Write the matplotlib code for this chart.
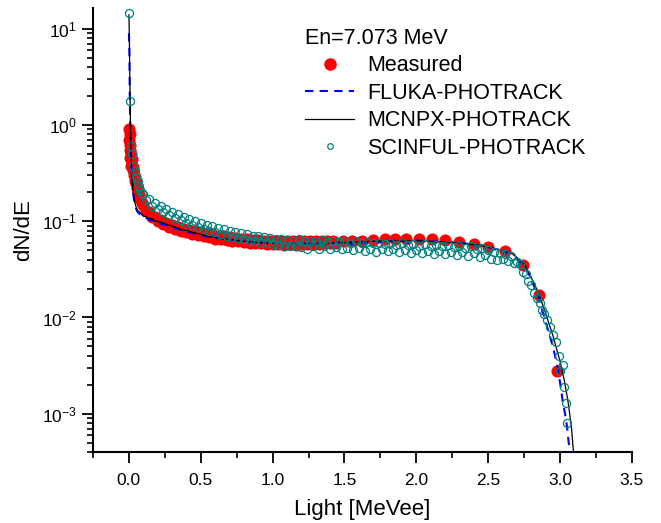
import matplotlib
matplotlib.use("Agg")
import matplotlib.pyplot as plt
from matplotlib.ticker import LogLocator, MultipleLocator, NullFormatter

plt.rcParams['font.family'] = ['Liberation Sans', 'DejaVu Sans']

# measured spectrum
meas_x = [0.0, 0.0, 0.005, 0.005, 0.01, 0.01, 0.015, 0.015, 0.02, 0.025, 0.03, 0.035, 0.04,
          0.045, 0.05, 0.055, 0.06, 0.065, 0.07, 0.08, 0.09,
          0.10, 0.12, 0.14, 0.16, 0.18, 0.20, 0.22, 0.24, 0.26, 0.28, 0.30, 0.32, 0.34, 0.36,
          0.38, 0.40, 0.42, 0.44, 0.46, 0.48, 0.50, 0.52, 0.54, 0.56, 0.58, 0.60, 0.62, 0.64,
          0.66, 0.68, 0.70, 0.72, 0.74, 0.76, 0.78, 0.80, 0.82, 0.84, 0.86, 0.88, 0.90, 0.92,
          0.94, 0.96, 0.98, 1.00, 1.02, 1.04, 1.06, 1.08, 1.10, 1.12, 1.14, 1.16, 1.18, 1.20,
          1.22, 1.24, 1.26, 1.28, 1.30, 1.32, 1.34, 1.36, 1.38, 1.40, 1.42, 1.44,
          1.49, 1.55, 1.62, 1.70, 1.78, 1.85, 1.93, 2.02, 2.11, 2.20, 2.30, 2.40, 2.50, 2.62,
          2.74, 2.85, 2.98]
meas_y = [0.90, 0.70, 0.80, 0.55, 0.62, 0.45, 0.50, 0.38, 0.44, 0.37, 0.34, 0.30, 0.29,
          0.26, 0.25, 0.22, 0.215, 0.195, 0.19, 0.17, 0.155,
          0.146, 0.128, 0.124, 0.111, 0.112, 0.101, 0.103, 0.094, 0.097, 0.088, 0.092, 0.084, 0.088, 0.080,
          0.084, 0.077, 0.081, 0.074, 0.079, 0.072, 0.077, 0.070, 0.075, 0.068, 0.073, 0.066, 0.071, 0.065,
          0.070, 0.064, 0.068, 0.063, 0.067, 0.062, 0.066, 0.061, 0.065, 0.060, 0.064, 0.059, 0.064, 0.059,
          0.063, 0.058, 0.063, 0.058, 0.062, 0.058, 0.062, 0.057, 0.062, 0.058, 0.062, 0.057, 0.062, 0.058,
          0.062, 0.058, 0.062, 0.058, 0.063, 0.058, 0.062, 0.059, 0.063, 0.059, 0.062, 0.060,
          0.062, 0.063, 0.063, 0.064, 0.065, 0.066, 0.066, 0.066, 0.065, 0.064, 0.061, 0.058, 0.054, 0.049,
          0.035, 0.017, 0.0028]

# FLUKA-PHOTRACK
fluka_x = [0.0, 0.003, 0.006, 0.01, 0.015, 0.02, 0.03, 0.04, 0.05, 0.06, 0.08, 0.10, 0.12, 0.14,
           0.16, 0.18, 0.20, 0.23, 0.26, 0.29, 0.32, 0.35, 0.40, 0.45, 0.50, 0.55, 0.60, 0.65,
           0.70, 0.75, 0.80, 0.85, 0.90, 0.95, 1.00, 1.10, 1.20, 1.30, 1.40, 1.50, 1.55, 1.60,
           1.65, 1.70, 1.75, 1.80, 1.85, 1.90, 1.95, 2.00, 2.10, 2.20, 2.30, 2.40, 2.50, 2.55,
           2.60, 2.65, 2.70, 2.75, 2.80, 2.85, 2.90, 2.95, 2.98, 3.00, 3.02, 3.04, 3.05, 3.06,
           3.07, 3.08]
fluka_y = [9.0, 6.0, 2.0, 0.8, 0.42, 0.28, 0.19, 0.155, 0.135, 0.125, 0.117, 0.112, 0.108, 0.104,
           0.102, 0.099, 0.097, 0.093, 0.091, 0.087, 0.084, 0.082, 0.078, 0.075, 0.072, 0.069, 0.067, 0.066,
           0.064, 0.063, 0.062, 0.061, 0.060, 0.060, 0.059, 0.060, 0.058, 0.059, 0.059, 0.061, 0.058, 0.062,
           0.059, 0.063, 0.060, 0.064, 0.061, 0.063, 0.060, 0.063, 0.062, 0.061, 0.060, 0.057, 0.054, 0.051,
           0.049, 0.046, 0.041, 0.034, 0.025, 0.016, 0.009, 0.005, 0.0032, 0.0021, 0.0013, 0.0009, 0.0007, 0.0005,
           0.0004, 0.0003]

# MCNPX-PHOTRACK
mcnpx_x = [0.0, 0.003, 0.006, 0.01, 0.015, 0.02, 0.03, 0.04, 0.05, 0.06, 0.08, 0.10, 0.12, 0.14,
           0.16, 0.18, 0.20, 0.23, 0.26, 0.29, 0.32, 0.35, 0.40, 0.45, 0.50, 0.55, 0.60, 0.65,
           0.70, 0.75, 0.80, 0.85, 0.90, 0.95, 1.00, 1.10, 1.20, 1.30, 1.40, 1.50, 1.60, 1.70,
           1.80, 1.90, 2.00, 2.10, 2.20, 2.30, 2.40, 2.50, 2.55, 2.60, 2.65, 2.70, 2.75, 2.80,
           2.85, 2.90, 2.95, 3.00, 3.03, 3.05, 3.06, 3.08, 3.10]
mcnpx_y = [14.0, 8.0, 3.0, 1.2, 0.5, 0.3, 0.2, 0.16, 0.14, 0.13, 0.122, 0.113, 0.112, 0.106,
           0.107, 0.101, 0.100, 0.097, 0.093, 0.090, 0.087, 0.083, 0.080, 0.076, 0.073, 0.070, 0.068, 0.066,
           0.065, 0.063, 0.062, 0.061, 0.060, 0.060, 0.059, 0.059, 0.058, 0.058, 0.059, 0.060, 0.061, 0.062,
           0.063, 0.062, 0.063, 0.062, 0.061, 0.059, 0.057, 0.054, 0.052, 0.050, 0.048, 0.042, 0.036, 0.026,
           0.018, 0.011, 0.0065, 0.0035, 0.0022, 0.0015, 0.0012, 0.0007, 0.0003]

# SCINFUL-PHOTRACK
scin_x = [0.0, 0.008, 0.015, 0.02, 0.03, 0.04, 0.05, 0.06, 0.07, 0.08, 0.09,
          0.10, 0.12, 0.14, 0.16, 0.18, 0.20, 0.22, 0.24, 0.26, 0.28, 0.30, 0.32, 0.34, 0.36,
          0.38, 0.40, 0.42, 0.44, 0.46, 0.48, 0.50, 0.52, 0.54, 0.56, 0.58, 0.60, 0.62, 0.64,
          0.66, 0.68, 0.70, 0.72, 0.74, 0.76, 0.78, 0.80, 0.82, 0.84, 0.86, 0.88, 0.90, 0.92,
          0.94, 0.96, 0.98, 1.00, 1.02, 1.04, 1.06, 1.08, 1.10, 1.12, 1.14, 1.16, 1.18, 1.20,
          1.22, 1.24, 1.26, 1.28, 1.30, 1.32, 1.34, 1.36, 1.38, 1.40, 1.42, 1.44, 1.46, 1.48,
          1.50, 1.52, 1.54, 1.56, 1.58, 1.60, 1.62, 1.64, 1.66, 1.68, 1.70, 1.72, 1.74, 1.76,
          1.78, 1.80, 1.82, 1.84, 1.86, 1.88, 1.90, 1.92, 1.94, 1.96, 1.98, 2.00, 2.02, 2.04,
          2.06, 2.08, 2.10, 2.12, 2.14, 2.16, 2.18, 2.20, 2.22, 2.24, 2.26, 2.28, 2.30, 2.32,
          2.34, 2.36, 2.38, 2.40, 2.42, 2.44, 2.46, 2.48, 2.50, 2.52, 2.54, 2.56, 2.58, 2.60,
          2.62, 2.64, 2.66, 2.68, 2.70, 2.72, 2.74, 2.76, 2.78, 2.80, 2.82, 2.84, 2.86, 2.875,
          2.89, 2.91, 2.93, 2.95, 2.97, 2.99, 3.00, 3.02, 3.03, 3.04, 3.05]
scin_y = [14.7, 1.8, 0.6, 0.5, 0.38, 0.33, 0.29, 0.26, 0.23, 0.21, 0.195,
          0.190, 0.165, 0.172, 0.145, 0.156, 0.135, 0.143, 0.124, 0.134, 0.116, 0.124, 0.108, 0.118, 0.102,
          0.112, 0.097, 0.106, 0.092, 0.101, 0.087, 0.096, 0.083, 0.092, 0.080, 0.089, 0.077, 0.086, 0.074,
          0.083, 0.071, 0.080, 0.069, 0.078, 0.067, 0.075, 0.065, 0.073, 0.063, 0.071, 0.062, 0.070, 0.060,
          0.068, 0.059, 0.067, 0.058, 0.066, 0.057, 0.065, 0.056, 0.064, 0.055, 0.063, 0.056, 0.065, 0.054,
          0.062, 0.051, 0.063, 0.055, 0.062, 0.052, 0.064, 0.055, 0.061, 0.051, 0.063, 0.054, 0.061, 0.052,
          0.062, 0.053, 0.060, 0.050, 0.062, 0.053, 0.059, 0.049, 0.061, 0.052, 0.059, 0.048, 0.060, 0.052,
          0.058, 0.049, 0.060, 0.051, 0.057, 0.048, 0.059, 0.050, 0.057, 0.047, 0.058, 0.050, 0.056, 0.047,
          0.058, 0.049, 0.055, 0.046, 0.057, 0.049, 0.055, 0.046, 0.057, 0.048, 0.054, 0.045, 0.056, 0.048,
          0.053, 0.044, 0.055, 0.047, 0.052, 0.043, 0.053, 0.045, 0.050, 0.041, 0.048, 0.040, 0.047, 0.041,
          0.046, 0.039, 0.044, 0.037, 0.038, 0.036, 0.030, 0.028, 0.024, 0.022, 0.018, 0.016, 0.014, 0.012,
          0.011, 0.0095, 0.008, 0.0065, 0.0055, 0.0040, 0.0028, 0.0032, 0.0019, 0.0013, 0.0008]

fig = plt.figure(figsize=(6.61, 5.23), dpi=100)
ax = fig.add_axes([0.1407, 0.1358, 0.8153, 0.849])

ax.plot(meas_x, meas_y, 'o', color='red', markersize=8.7, markeredgewidth=0, label='Measured', zorder=2)
ax.plot(fluka_x, fluka_y, '--', color='blue', lw=1.5, dashes=(4, 3), label='FLUKA-PHOTRACK', zorder=3)
ax.plot(mcnpx_x, mcnpx_y, '-', color='black', lw=0.9, label='MCNPX-PHOTRACK', zorder=4)
ax.plot(scin_x, scin_y, 'o', mfc='none', mec='#008080', markersize=5.8, mew=0.9,
        label='SCINFUL-PHOTRACK', zorder=5)

ax.set_yscale('log')
ax.set_xlim(-0.25, 3.5)
ax.set_ylim(4.0e-4, 16.5)

ax.xaxis.set_major_locator(MultipleLocator(0.5))
ax.xaxis.set_minor_locator(MultipleLocator(0.25))
ax.yaxis.set_major_locator(LogLocator(base=10, numticks=10))
ax.yaxis.set_minor_locator(LogLocator(base=10, subs=range(2, 10), numticks=20))
ax.yaxis.set_minor_formatter(NullFormatter())

for s in ['top', 'right']:
    ax.spines[s].set_visible(False)
for s in ['left', 'bottom']:
    ax.spines[s].set_linewidth(1.5)

ax.tick_params(which='major', direction='out', length=8, width=1.3, labelsize=12.5)
ax.tick_params(axis='x', which='major', pad=7)
ax.tick_params(which='minor', direction='out', length=4.5, width=1.2)

ax.set_xlabel('Light [MeVee]', fontsize=16, labelpad=8)
ax.set_ylabel('dN/dE', fontsize=16, labelpad=6)

leg = ax.legend(title='En=7.073 MeV', loc='upper left', bbox_to_anchor=(0.365, 0.989),
                frameon=False, fontsize=15.5, title_fontsize=15.5, handlelength=2.3,
                handletextpad=0.6, labelspacing=0.3, alignment='left', borderpad=0.2)
leg.legend_handles[0].set_markersize(9)
leg.legend_handles[3].set_markersize(4)

fig.savefig('out.png', dpi=100)
